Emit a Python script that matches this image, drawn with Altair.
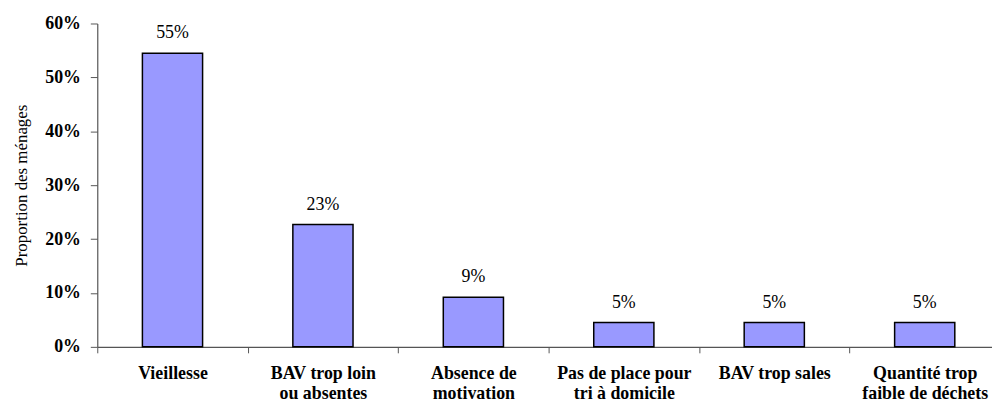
import altair as alt
import pandas as pd

categories = [
    "Vieillesse",
    "BAV trop loin|ou absentes",
    "Absence de|motivation",
    "Pas de place pour|tri à domicile",
    "BAV trop sales",
    "Quantité trop|faible de déchets",
]
values = [0.545, 0.227, 0.092, 0.045, 0.045, 0.045]
value_labels = ["55%", "23%", "9%", "5%", "5%", "5%"]
y_ticks = [0, 0.1, 0.2, 0.3, 0.4, 0.5, 0.6]

df = pd.DataFrame({"cat": categories, "val": values, "lab": value_labels})

FONT = "Liberation Serif"
RANGE_W = 910
HALF_STEP = RANGE_W / len(categories) / 2

x_enc = alt.X(
    "cat:N",
    sort=categories,
    scale=alt.Scale(paddingInner=0.6, paddingOuter=0.3, range=[0, RANGE_W]),
    axis=alt.Axis(
        title=None,
        labelExpr="split(datum.label, '|')",
        tickOffset=-HALF_STEP,
        labelOffset=HALF_STEP,
    ),
)

bars = alt.Chart(df).mark_bar(
    color="#9999FF", stroke="black", strokeWidth=1.5
).encode(
    x=x_enc,
    y=alt.Y(
        "val:Q",
        scale=alt.Scale(domain=[0, 0.6], nice=False),
        axis=alt.Axis(title="Proportion des ménages", values=y_ticks, format=".0%"),
    ),
)

texts = alt.Chart(df).mark_text(
    font=FONT, fontSize=18, baseline="alphabetic", dy=-15, color="black"
).encode(
    x=x_enc,
    y="val:Q",
    text="lab:N",
)

chart = (
    alt.layer(bars, texts)
    .properties(
        width=902,
        height=326,
        padding={"left": 90, "top": 14, "right": 0, "bottom": 58},
        autosize=alt.AutoSizeParams(type="none"),
    )
    .configure_view(stroke=None)
    .configure_axis(
        labelFont=FONT,
        labelFontSize=18,
        labelFontWeight="bold",
        labelColor="black",
        titleFont=FONT,
        titleFontSize=17,
        titleFontWeight="normal",
        titleColor="black",
        tickColor="#555",
        domainColor="#555",
        domainWidth=1.2,
        grid=False,
        labelLimit=300,
    )
    .configure_axisX(
        labelAngle=0,
        labelLineHeight=20,
        labelPadding=12,
        labelBaseline="top",
        tickSize=6,
    )
    .configure_axisY(
        titlePadding=14,
        labelPadding=10,
        tickSize=7,
    )
)

chart.save("out.html", embed_options={"renderer": "svg", "actions": False})
